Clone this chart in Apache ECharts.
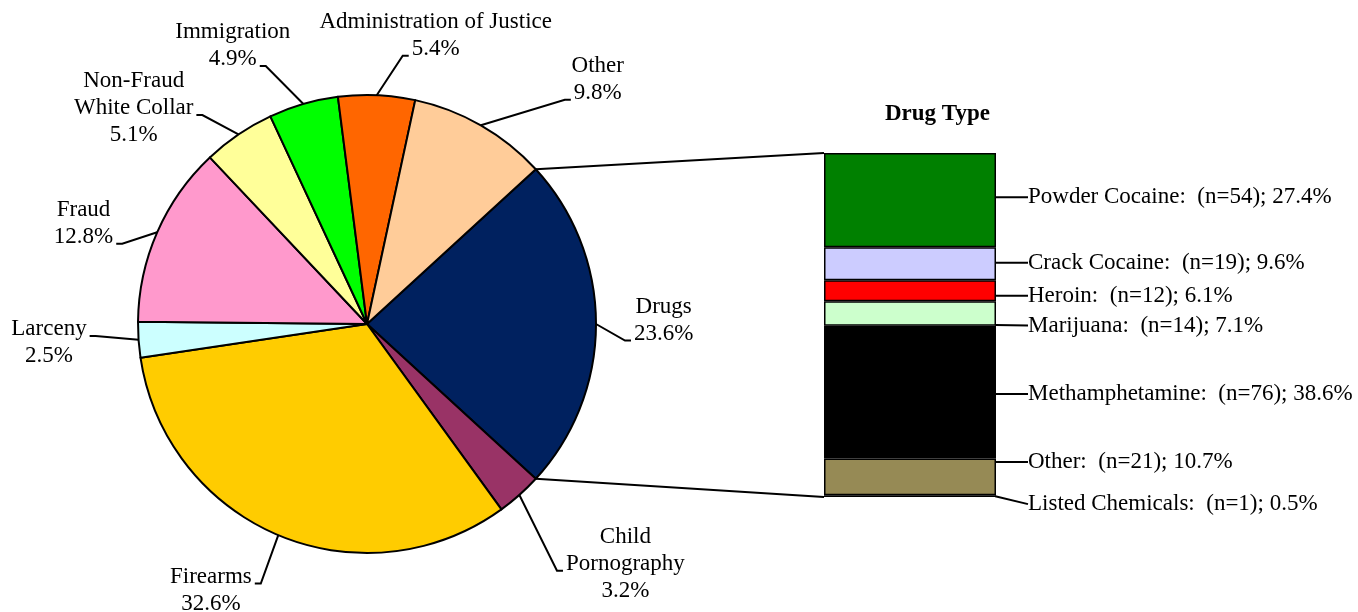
<!DOCTYPE html>
<html>
<head>
<meta charset="utf-8">
<script src="https://cdn.jsdelivr.net/npm/echarts@6/dist/echarts.min.js"></script>
<style>
html,body{margin:0;padding:0;background:#fff;}
#chart{width:1358px;height:612px;}
</style>
</head>
<body>
<div id="chart"></div>
<script>
// ---- data ----
const offenseNames = ['Drugs', 'Child\nPornography', 'Firearms', 'Larceny', 'Fraud', 'Non-Fraud\nWhite Collar', 'Immigration', 'Administration of Justice', 'Other'];
const offensePct = [23.6, 3.2, 32.6, 2.5, 12.8, 5.1, 4.9, 5.4, 9.8];
const drugNames = ['Powder Cocaine', 'Crack Cocaine', 'Heroin', 'Marijuana', 'Methamphetamine', 'Other', 'Listed Chemicals'];
const drugCounts = [54, 19, 12, 14, 76, 21, 1];
const drugPct = [27.4, 9.6, 6.1, 7.1, 38.6, 10.7, 0.5];
const drugTitle = 'Drug Type';

// ---- styles / layout tweaks ----
const offenseColors = ['#00215F', '#993366', '#FFCC00', '#CCFFFF', '#FF99CC', '#FFFF99', '#00FF00', '#FF6600', '#FFCC99'];
const drugColors = ['#008000', '#CCCCFF', '#FF0000', '#CCFFCC', '#000000', '#968A55', '#666666'];
const pieLabelShift = [[-10, -4], [7, 39], [2, 18], [-4, 0], [1, 7], [23, -23], [11, -20], [-72, -20], [37, -28]];
const barLabelShift = [-3, -1, 5, 12, 2, -15, 8];
const FONT = '"Liberation Serif", "Times New Roman", serif';
const FS = 23, LH = 27;
const pieCenter = [367, 324];
const pieR = 229;
const grid = { left: 824, top: 153, width: 172, height: 344 };

const total = offensePct.reduce((a, b) => a + b, 0);
const startAngle = offensePct[0] / total * 360 / 2;

const measureCtx = document.createElement('canvas').getContext('2d');
measureCtx.font = FS + 'px ' + FONT;
const textW = (s) => measureCtx.measureText(s).width;

function midPoint(i) {
  let before = 0;
  for (let k = 0; k < i; k++) before += offensePct[k];
  const th = (startAngle - (before + offensePct[i] / 2) / total * 360) * Math.PI / 180;
  return [pieCenter[0] + pieR * Math.cos(th), pieCenter[1] - pieR * Math.sin(th)];
}

const chart = echarts.init(document.getElementById('chart'), null, { renderer: 'canvas' });

const pieData = offenseNames.map((n, i) => ({
  name: n, value: offensePct[i],
  itemStyle: { color: offenseColors[i] }
}));

const barSeries = [];
for (let i = drugNames.length - 1; i >= 0; i--) {
  barSeries.push({
    type: 'bar',
    name: drugNames[i],
    stack: 'drugs',
    barWidth: '100%',
    data: [drugPct[i]],
    itemStyle: { color: drugColors[i], borderColor: '#000', borderWidth: 1.5 },
    label: {
      show: true,
      position: 'right',
      distance: 32,
      fontFamily: FONT,
      fontSize: FS,
      color: '#000',
      formatter: () => drugNames[i] + ':  (n=' + drugCounts[i] + '); ' + drugPct[i].toFixed(1) + '%'
    },
    labelLine: { show: true, lineStyle: { color: '#000', width: 2 } },
    labelLayout: function (params) {
      const lr = params.labelRect, r = params.rect;
      const y = lr.y + barLabelShift[i];
      const cy = y + lr.height / 2;
      const p0 = [r.x + r.width, r.y + r.height / 2];
      const p2 = [lr.x - 2, cy + 1];
      const p1 = [p2[0] - 5, p2[1]];
      return { x: lr.x, y: y, align: 'left', verticalAlign: 'top', labelLinePoints: [p0, p1, p2] };
    }
  });
}

// connector lines from the Drugs slice edges to the bar corners
const rad = startAngle * Math.PI / 180;
const p1 = [pieCenter[0] + pieR * Math.cos(rad), pieCenter[1] - pieR * Math.sin(rad)];
const p2 = [pieCenter[0] + pieR * Math.cos(rad), pieCenter[1] + pieR * Math.sin(rad)];

chart.setOption({
  animation: false,
  backgroundColor: '#fff',
  title: {
    text: drugTitle,
    left: 880, top: 98,
    textStyle: { fontFamily: FONT, fontSize: FS, fontWeight: 'bold', color: '#000' }
  },
  grid: grid,
  xAxis: { type: 'category', data: [drugTitle], show: false },
  yAxis: { type: 'value', min: 0, max: 100, show: false },
  graphic: [
    { type: 'line', shape: { x1: p1[0], y1: p1[1], x2: grid.left, y2: grid.top }, style: { stroke: '#000', lineWidth: 2 }, z: 0 },
    { type: 'line', shape: { x1: p2[0], y1: p2[1], x2: grid.left, y2: grid.top + grid.height }, style: { stroke: '#000', lineWidth: 2 }, z: 0 }
  ],
  series: [
    {
      type: 'pie',
      center: pieCenter,
      radius: pieR,
      startAngle: startAngle,
      clockwise: true,
      avoidLabelOverlap: true,
      data: pieData,
      itemStyle: { borderColor: '#000', borderWidth: 2 },
      label: {
        show: true,
        position: 'outside',
        formatter: (p) => '{t|' + p.name.split('\n').join('}\n{t|') + '}\n{t|' + p.value.toFixed(1) + '%}',
        rich: { t: { fontFamily: FONT, fontSize: FS, lineHeight: LH, color: '#000', align: 'center' } }
      },
      labelLine: { show: true, length: 40, length2: 8, lineStyle: { color: '#000', width: 2 } },
      labelLayout: function (params) {
        const i = params.dataIndex;
        const r = params.labelRect;
        const cx = r.x + r.width / 2 + pieLabelShift[i][0];
        const cy = r.y + r.height / 2 + pieLabelShift[i][1];
        const lines = offenseNames[i].split('\n').concat([offensePct[i].toFixed(1) + '%']);
        const n = lines.length;
        const p0 = midPoint(i);
        const dir = cx < p0[0] ? 1 : -1;
        let best = null, bestD = Infinity;
        lines.forEach((s, j) => {
          const ly = cy + (j - (n - 1) / 2) * LH;
          const ex = cx + dir * (textW(s) / 2 + 3);
          const d = Math.hypot(ex - p0[0], ly - p0[1]);
          if (d < bestD) { bestD = d; best = [ex, ly + 7]; }
        });
        const pA = [best[0] + dir * 6, best[1]];
        return { x: cx, y: cy, align: 'center', verticalAlign: 'middle', labelLinePoints: [p0, pA, best] };
      },
      emphasis: { disabled: true }
    }
  ].concat(barSeries)
});
</script>
</body>
</html>
